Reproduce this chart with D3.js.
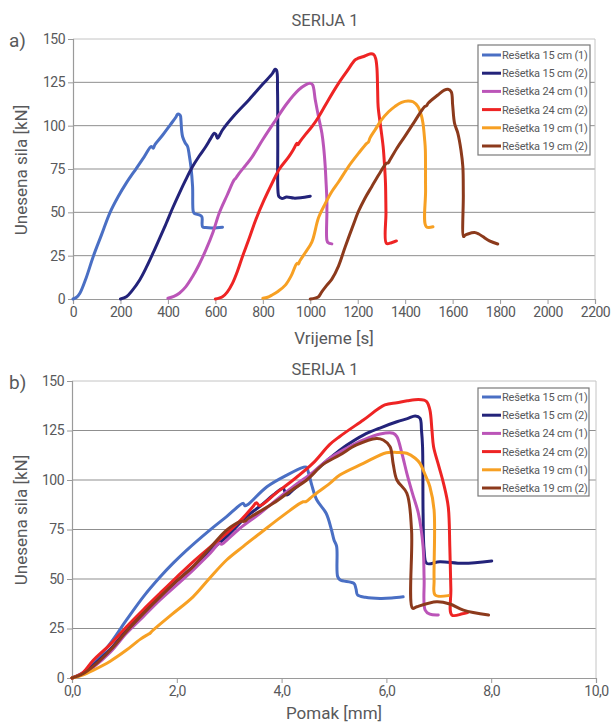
<!DOCTYPE html>
<html><head><meta charset="utf-8">
<script src="https://cdn.jsdelivr.net/npm/d3@7"></script>
<style>
body{margin:0;background:#fff}
svg text{font-family:Roboto,"Open Sans",sans-serif;fill:#58595b}
</style>
</head><body>
<svg id="c" width="611" height="723"></svg>
<script>
// ---------- data ----------
const chartTitle = "SERIJA 1";
const seriesNames = ["Rešetka 15 cm (1)","Rešetka 15 cm (2)","Rešetka 24 cm (1)","Rešetka 24 cm (2)","Rešetka 19 cm (1)","Rešetka 19 cm (2)"];
const timeTicks = [0,200,400,600,800,1000,1200,1400,1600,1800,2000,2200];
const forceTicks = [0,25,50,75,100,125,150];
const dispTicks = [0,2,4,6,8,10];

// panel a) time [s] vs force [kN]
const timeR15_1 = [[0,0],[15,1],[29,3.3],[55,12],[85,24.4],[120,37],[155,49.6],[190,59],[225,67],[267,75.4],[300,82],[330,88],[338,87],[345,89],[378,94.6],[410,100.5],[434,105],[441,106.7],[452,106],[455,103],[458,97],[462,93.6],[473,90],[483,88],[490,83],[497,76.3],[504,64.8],[507,50.4],[512,49.3],[532,48.5],[543,47.5],[546,41.7],[560,41.2],[590,41],[630,41.4]];
const timeR15_2 = [[200,0],[225,1.3],[250,5],[281,11],[310,18.5],[337,26.4],[365,35],[393,43.7],[420,52.5],[448,61],[476,69],[504,76.4],[532,82.5],[560,88],[580,92.5],[595,95.6],[602,95],[609,92.7],[620,95],[630,97.5],[680,106],[742,115],[800,124],[840,130],[852,132.5],[858,132],[862,120],[863,90],[864,62],[868,59],[881,58],[900,58.8],[930,58.2],[960,58.4],[1000,59.3]];
const timeR24_1 = [[400,0.4],[425,1.5],[448,3.3],[475,7],[504,13],[530,19.5],[560,28.3],[590,38.5],[616,49.5],[650,60],[679,68.7],[685,69.5],[700,72.5],[730,77.5],[755,82],[800,92],[853,103],[900,112.5],[951,120.6],[980,123.5],[1000,124.4],[1010,123.5],[1021,115],[1035,105],[1049,95.6],[1056,88],[1063,76.4],[1066,68.7],[1070,57],[1070,49.5],[1070,34],[1075,32.5],[1091,31.8]];
const timeR24_2 = [[600,0],[615,0.5],[630,1.3],[650,4],[672,9],[693,16],[714,24.4],[740,34],[770,45.6],[805,57],[839,66.8],[870,75],[909,82],[930,86.5],[944,89.8],[948,89],[955,90.5],[980,95],[1007,99.4],[1035,105],[1077,115],[1119,124.4],[1155,131.5],[1189,137.9],[1202,138.9],[1230,140.2],[1251,141.4],[1268,141],[1276,138.5],[1281,133],[1284,120],[1286,111],[1296,100],[1307,88],[1313,77],[1317,66.8],[1319,50],[1321,32.1],[1342,32.5],[1363,33.5]];
const timeR19_1 = [[800,0.4],[820,1],[839,2.3],[865,4.5],[895,8],[920,13.5],[944,20.6],[950,20.2],[956,22],[980,27],[1007,33],[1035,47],[1063,55],[1091,62],[1119,67.5],[1161,76.4],[1203,84],[1238,89.8],[1245,90.5],[1252,93],[1275,98],[1300,103.3],[1330,108],[1356,111],[1385,113.5],[1412,114.3],[1433,113.8],[1454,111],[1468,106],[1475,101.4],[1482,92],[1485,86],[1486,62.9],[1489,41.7],[1517,41.7]];
const timeR19_2 = [[1000,0],[1020,0.5],[1035,1.3],[1049,4.2],[1070,8],[1091,11.5],[1119,19],[1147,30],[1189,45.6],[1203,50.5],[1230,58],[1259,64.8],[1290,72],[1321,78.3],[1328,78.5],[1335,80],[1365,87],[1398,93.7],[1440,102.5],[1482,111],[1490,111.5],[1497,113],[1538,117.7],[1565,120.5],[1580,121],[1594,119.6],[1600,112],[1608,101.4],[1622,95.6],[1635,86],[1643,76.4],[1645,60],[1646,36],[1652,36.8],[1664,37.5],[1692,38.3],[1710,37.5],[1727,36],[1755,33.5],[1790,31.7]];

// panel b) displacement [mm] vs force [kN]
const dispR15_1 = [[0,0],[0.2,2.5],[0.41,7.4],[0.73,17.5],[1.04,29.3],[1.36,41],[1.68,51],[1.93,58],[2.19,64.6],[2.63,74.7],[2.95,81.5],[3.27,88.2],[3.3,87],[3.35,87.5],[3.72,96.6],[4.10,102.5],[4.41,106.4],[4.47,106.5],[4.52,103],[4.58,97],[4.67,90],[4.85,83.2],[4.95,75],[5.0,69.7],[5.05,66.5],[5.07,51.2],[5.12,49.5],[5.38,47.8],[5.42,45],[5.45,41.9],[5.6,40.8],[5.88,40.2],[6.1,40.4],[6.32,41]];
const dispR15_2 = [[0,0],[0.2,2],[0.41,6.5],[0.73,14.5],[1.04,24.2],[1.36,33],[1.68,41],[2.0,49],[2.31,56.2],[2.63,64],[2.95,71.4],[3.33,81.5],[3.6,87],[3.84,92.4],[4.03,95.8],[4.07,93.5],[4.10,92.4],[4.22,95],[4.48,100.8],[4.7,106],[4.92,111],[5.24,117.5],[5.56,122.7],[5.9,126.5],[6.2,129.4],[6.4,131],[6.55,132.3],[6.64,131.2],[6.67,125],[6.69,116.8],[6.70,83.2],[6.72,64.6],[6.77,57.9],[7.02,58.7],[7.47,57.9],[8.01,59.1]];
const dispR24_1 = [[0,0],[0.2,1.8],[0.41,5.5],[0.73,13],[1.04,22.6],[1.36,31],[1.68,39.4],[2.0,47],[2.31,54.5],[2.6,62],[2.82,68],[2.85,67.5],[2.9,68.3],[3.2,75.5],[3.59,83.2],[3.9,90],[4.22,96.6],[4.6,104],[4.92,111],[5.24,116],[5.56,120.2],[5.88,123.2],[6.13,123.6],[6.2,121.9],[6.3,113],[6.39,103.4],[6.5,93],[6.61,83.2],[6.70,66.3],[6.72,50],[6.74,34.3],[6.83,32.2],[6.99,31.8]];
const dispR24_2 = [[0,0],[0.2,2.5],[0.41,9.1],[0.73,17],[1.04,25.9],[1.36,34.5],[1.68,42.8],[2.0,51],[2.31,58.7],[2.63,66],[2.95,73.1],[3.25,80.5],[3.45,86.5],[3.52,88.5],[3.58,87],[3.9,93.5],[4.22,100],[4.6,108.5],[4.92,118],[5.11,122],[5.56,130.3],[5.97,137.9],[6.2,139],[6.4,140],[6.61,140.7],[6.72,140.3],[6.77,139.5],[6.83,135.4],[6.87,125],[6.90,116.8],[7.0,107],[7.09,98.3],[7.18,86.5],[7.21,66.3],[7.23,45],[7.25,31.8],[7.45,32.4],[7.55,33]];
const dispR19_1 = [[0,0],[0.2,1.5],[0.41,4],[0.73,8.5],[1.04,14.1],[1.3,19.5],[1.45,22],[1.49,22.6],[1.52,23.5],[1.9,32],[2.31,41],[2.63,50.5],[2.95,59.6],[3.27,66.5],[3.59,73.1],[4.0,81.5],[4.41,89],[4.46,89],[4.6,92],[4.92,98.3],[5.11,102.5],[5.56,108.4],[6.0,113.8],[6.2,113.9],[6.39,113.5],[6.55,111],[6.64,108.4],[6.75,102],[6.83,96.6],[6.91,84.8],[6.91,49.5],[6.93,41.9],[7.18,41.6]];
const dispR19_2 = [[0,0],[0.2,2],[0.41,6],[0.73,14],[1.04,23.5],[1.36,32.5],[1.68,41],[2.0,49],[2.31,56.2],[2.63,65.5],[2.95,74.7],[3.21,79],[3.3,79.2],[3.36,80.5],[3.84,88.2],[4.2,95],[4.48,100],[4.8,108],[5.11,112.6],[5.43,117.7],[5.81,121],[5.94,120.2],[6.07,116.8],[6.13,108],[6.20,100],[6.39,93.3],[6.48,74.7],[6.50,35.2],[6.58,36],[6.96,38.5],[7.21,37.4],[7.47,34.3],[7.95,31.8]];

const seriesA = [timeR15_1,timeR15_2,timeR24_1,timeR24_2,timeR19_1,timeR19_2];
const seriesB = [dispR15_1,dispR15_2,dispR24_1,dispR24_2,dispR19_1,dispR19_2];
const colors = ["#4a6fc4","#23237a","#bb55b8","#ee2424","#f7a023","#8c3a1c"];

// ---------- drawing ----------
const svg = d3.select("#c");

function panel(o){
  const g = svg.append("g");
  const x = d3.scaleLinear().domain(o.xDomain).range([o.left,o.right]);
  const y = d3.scaleLinear().domain([0,150]).range([o.bottom,o.top]);

  g.selectAll(".grid").data(forceTicks.filter(v=>v>0 && v<150)).join("line")
    .attr("x1",o.left).attr("x2",o.right).attr("y1",d=>y(d)).attr("y2",d=>y(d))
    .attr("stroke","#8f8f8f").attr("stroke-width",1);
  g.append("path").attr("d",`M${o.left},${o.top}H${o.right}V${o.bottom}`)
    .attr("fill","none").attr("stroke","#c4c4c4").attr("stroke-width",1);

  const yAx = g.append("g").attr("transform",`translate(${o.left},0)`)
    .call(d3.axisLeft(y).tickValues(forceTicks).tickSize(5).tickPadding(3));
  const xAx = g.append("g").attr("transform",`translate(0,${o.bottom})`)
    .call(d3.axisBottom(x).tickValues(o.xTicks).tickSize(5).tickPadding(3).tickFormat(o.fmt));
  [yAx,xAx].forEach(a=>{
    a.select(".domain").attr("stroke","#9a9a9a").attr("stroke-width",1.2);
    a.selectAll(".tick line").attr("stroke","#9a9a9a");
    a.selectAll(".tick text").attr("font-size",14).attr("fill","#58595b")
      .attr("letter-spacing",-0.5).attr("font-family","Roboto,sans-serif");
  });

  const line = d3.line().x(d=>x(d[0])).y(d=>y(d[1])).curve(d3.curveCatmullRom.alpha(0.5));
  g.selectAll(".ser").data(o.series).join("path")
    .attr("d",line).attr("fill","none")
    .attr("stroke",(d,i)=>colors[i]).attr("stroke-width",3)
    .attr("stroke-linejoin","round").attr("stroke-linecap","round");

  g.append("text").attr("x",325).attr("y",o.titleY).attr("text-anchor","middle")
    .attr("font-size",16.5).text(chartTitle);
  g.append("text").attr("x",9).attr("y",o.top+8).attr("font-size",19).text(o.letter);
  g.append("text").attr("x",(o.left+o.right)/2).attr("y",o.xTitleY).attr("text-anchor","middle")
    .attr("font-size",17).text(o.xTitle);
  g.append("text").attr("transform",`translate(27,${o.yTitleC}) rotate(-90)`)
    .attr("text-anchor","middle").attr("font-size",17).text("Unesena sila [kN]");

  const L = o.legend;
  g.append("rect").attr("x",L.x).attr("y",L.y).attr("width",L.w).attr("height",L.h)
    .attr("fill","#fff").attr("stroke","#7a7a7a").attr("stroke-width",1.2);
  const items = g.selectAll(".leg").data(seriesNames).join("g")
    .attr("transform",(d,i)=>`translate(${L.x},${L.y+L.first+i*L.step})`);
  items.append("line").attr("x1",4).attr("x2",23).attr("y1",0).attr("y2",0)
    .attr("stroke",(d,i)=>colors[i]).attr("stroke-width",3);
  items.append("text").attr("x",24).attr("y",4).attr("font-size",11)
    .attr("letter-spacing",-0.2).text(d=>d);
}

panel({xDomain:[0,2200],left:73,right:595,top:39,bottom:299,xTicks:timeTicks,fmt:d3.format("d"),
  series:seriesA,titleY:26,letter:"a)",xTitle:"Vrijeme [s]",xTitleY:344,yTitleC:170,
  legend:{x:478,y:45,w:112,h:110,first:10,step:18.2}});
panel({xDomain:[0,10],left:72,right:596,top:381,bottom:678,xTicks:dispTicks,fmt:d=>d3.format(".1f")(d).replace(".",","),
  series:seriesB,titleY:375,letter:"b)",xTitle:"Pomak [mm]",xTitleY:719,yTitleC:520,
  legend:{x:478,y:388,w:111,h:108,first:9,step:18.2}});
</script>
</body></html>
